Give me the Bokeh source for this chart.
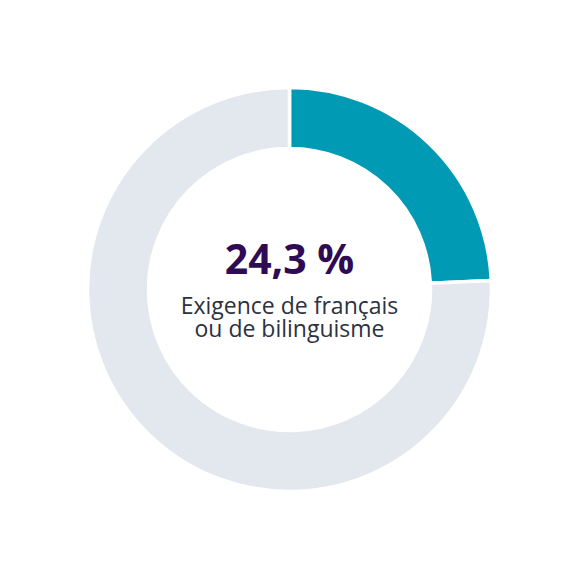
from bokeh.plotting import figure
from bokeh.embed import file_html
from bokeh.resources import INLINE
from bokeh.core.properties import value
import math

categories = ["Exigence de français ou de bilinguisme", "Autre"]
shares = [24.3, 75.7]
colors = ["#009AB5", "#E3E8EE"]
headline = "24,3 %"
label_lines = ["Exigence de français", "ou de bilinguisme"]

W = 564
p = figure(width=W, height=W, x_range=(-289, 275), y_range=(-275, 289),
           output_backend="svg", toolbar_location=None, min_border=0)
p.axis.visible = False
p.grid.visible = False
p.outline_line_color = None
p.background_fill_color = "white"
p.border_fill_color = "white"

total = sum(shares)
start = math.pi / 2
starts, ends = [], []
for s in shares:
    ang = 2 * math.pi * s / total
    ends.append(start)
    starts.append(start - ang)
    start -= ang

p.annular_wedge(x=[0] * len(shares), y=[0] * len(shares), inner_radius=141, outer_radius=202,
                start_angle=starts, end_angle=ends, fill_color=colors,
                line_color="white", line_width=3.5)

p.text(x=[0], y=[32], text=[headline], text_font=value("Open Sans"), text_font_style="bold",
       text_font_size="41px", text_color="#2E0B52", text_align="center", text_baseline="alphabetic")
p.text(x=[0, 0], y=[-15, -38], text=label_lines, text_font=value("Open Sans"),
       text_font_size="23px", text_color="#2B3240", text_align="center", text_baseline="alphabetic")

open("out.html", "w").write(file_html(p, INLINE))
